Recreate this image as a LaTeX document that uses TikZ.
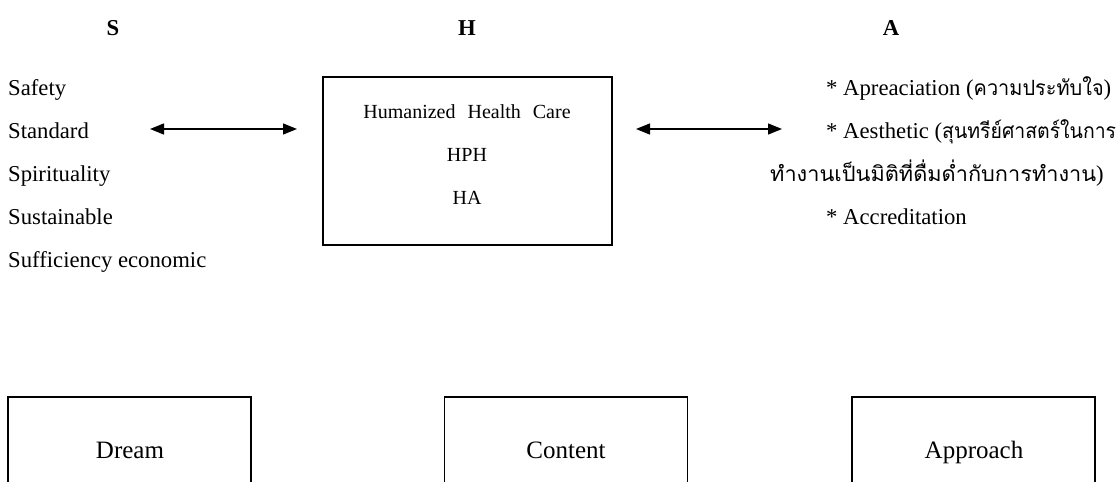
\documentclass[tikz,border=0pt]{standalone}
\usepackage{fontspec}
\usepackage{graphicx}
\setmainfont{Liberation Serif}
\newfontfamily\thai[Script=Thai]{Loma}
\newcommand{\fitthai}[2]{\resizebox{#1}{\height}{\fontsize{21}{24}\thai #2}}
\usetikzlibrary{arrows.meta}
\tikzset{
  txt/.style={anchor=base west, inner sep=0pt, font=\fontsize{22.7}{26}\selectfont},
  hdr/.style={anchor=base, inner sep=0pt, font=\fontsize{22.7}{26}\selectfont\bfseries},
  inner/.style={anchor=base, inner sep=0pt, font=\fontsize{20}{24}\selectfont},
  bigbox/.style={draw, line width=1.3pt, minimum width=289pt, minimum height=168pt, inner sep=0pt},
  lowbox/.style={draw, line width=1.3pt, minimum width=243pt, minimum height=120pt, inner sep=0pt},
  lowtxt/.style={anchor=base, inner sep=0pt, font=\fontsize{25}{28}\selectfont},
  dbl/.style={line width=1.3pt, {Triangle[length=14pt,width=11pt]}-{Triangle[length=14pt,width=11pt]}},
}
\begin{document}
\begin{tikzpicture}[x=1pt,y=-1pt]
\useasboundingbox (0,0) rectangle (1120,482);
\clip (0,0) rectangle (1120,482);
% headers
\node[hdr] (hS) at (113,35) {S};
\node[hdr] (hH) at (467,35) {H};
\node[hdr] (hA) at (891,35) {A};
% left list
\node[txt] (l1) at (8,95) {Safety};
\node[txt] (l2) at (8,138) {Standard};
\node[txt] (l3) at (8,181) {Spirituality};
\node[txt] (l4) at (8,224) {Sustainable};
\node[txt] (l5) at (8,267) {Sufficiency economic};
% centre box
\node[bigbox] (box) at (467.5,161) {};
\node[inner] (c1) at (467,118) {Humanized\hspace{0.6em}Health\hspace{0.6em}Care};
\node[inner] (c2) at (467,161) {HPH};
\node[inner] (c3) at (467,204) {HA};
% right list
\node[txt] (r1) at (826,95) {* Apreaciation (\fitthai{130pt}{ความประทับใจ})};
\node[txt] (r2) at (826,138) {* Aesthetic (\fitthai{174pt}{สุนทรีย์ศาสตร์ในการ}};
\node[txt] (r3) at (770,181) {\fitthai{326pt}{ทำงานเป็นมิติที่ดื่มด่ำกับการทำงาน})};
\node[txt] (r4) at (826,224) {* Accreditation};
% arrows
\coordinate (aL1) at (150,129);
\coordinate (aL2) at (297,129);
\coordinate (aR1) at (636,129);
\coordinate (aR2) at (782,129);
\draw[dbl] (aL1) -- (aL2);
\draw[dbl] (aR1) -- (aR2);
% bottom boxes
\node[lowbox] (b1) at (129.5,457) {};
\node[lowbox] (b2) at (566,457) {};
\node[lowbox] (b3) at (973.5,457) {};
\node[lowtxt] at (130,458) {Dream};
\node[lowtxt] at (566,458) {Content};
\node[lowtxt] at (974,458) {Approach};
\end{tikzpicture}
\end{document}
